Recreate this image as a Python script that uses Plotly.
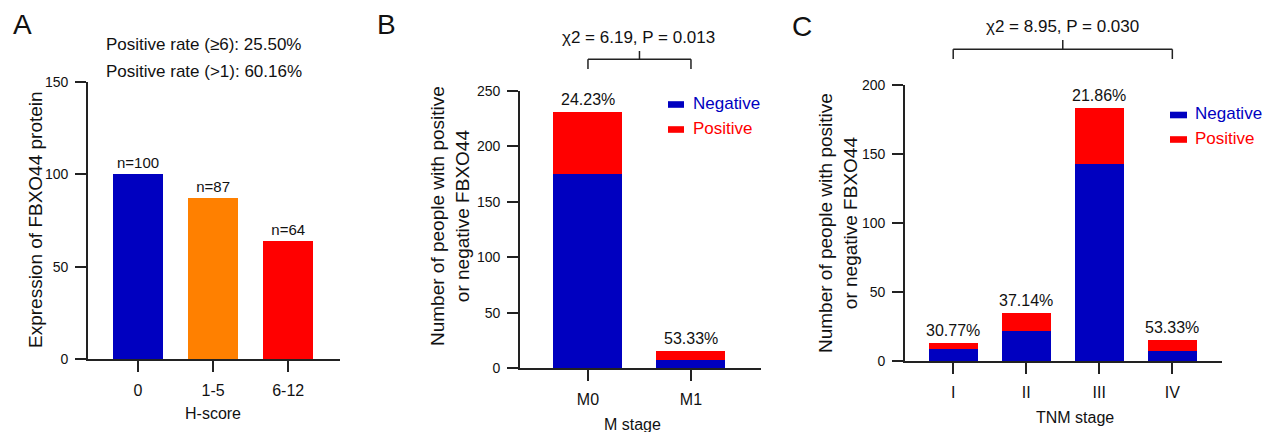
import plotly.graph_objects as go

# ---- data -------------------------------------------------------------
hscore_groups = ["0", "1-5", "6-12"]
hscore_counts = [100, 87, 64]
hscore_colors = ["#0000C0", "#FF8000", "#FF0000"]
positive_rate_lines = ["Positive rate (\u22656): 25.50%", "Positive rate (>1): 60.16%"]

m_stages = ["M0", "M1"]
m_negative = [175, 7]
m_positive = [56, 8]
m_rates = ["24.23%", "53.33%"]
m_stat = "\u03c72 = 6.19, P = 0.013"

tnm_stages = ["I", "II", "III", "IV"]
tnm_negative = [9, 22, 143, 7]
tnm_positive = [4, 13, 40, 8]
tnm_rates = ["30.77%", "37.14%", "21.86%", "53.33%"]
tnm_stat = "\u03c72 = 8.95, P = 0.030"

# ---- styling ----------------------------------------------------------
W, H = 1263, 432
FONT = "Arial, Liberation Sans, sans-serif"
BLUE, RED, AX = "#0000C0", "#FF0000", "#222222"


def px(x):
    return x / W


def py(y):
    return 1 - y / H


fig = go.Figure()

# Panel A: single bars
xa = list(range(len(hscore_groups)))
fig.add_trace(go.Bar(x=xa, y=hscore_counts, marker=dict(color=hscore_colors, line=dict(width=0)),
                     width=0.67, xaxis="x", yaxis="y", showlegend=False,
                     text=[f"n={v}" for v in hscore_counts], textposition="outside",
                     textfont=dict(size=15, color="#111", family=FONT), cliponaxis=False))

# Panel B: stacked bars
xb = list(range(len(m_stages)))
fig.add_trace(go.Bar(x=xb, y=m_negative, marker=dict(color=BLUE, line=dict(width=0)), width=0.67,
                     xaxis="x2", yaxis="y2", showlegend=False))
fig.add_trace(go.Bar(x=xb, y=m_positive, marker=dict(color=RED, line=dict(width=0)), width=0.67,
                     xaxis="x2", yaxis="y2", showlegend=False))

# Panel C: stacked bars
xc = list(range(len(tnm_stages)))
fig.add_trace(go.Bar(x=xc, y=tnm_negative, marker=dict(color=BLUE, line=dict(width=0)), width=0.67,
                     xaxis="x3", yaxis="y3", showlegend=False))
fig.add_trace(go.Bar(x=xc, y=tnm_positive, marker=dict(color=RED, line=dict(width=0)), width=0.67,
                     xaxis="x3", yaxis="y3", showlegend=False))

axis_common = dict(showline=True, linecolor=AX, linewidth=1.8, ticks="outside", ticklen=11,
                   tickwidth=1.6, tickcolor=AX, showgrid=False, zeroline=False, fixedrange=True,
                   automargin=False)
xaxis_common = dict(tickfont=dict(size=16), ticklabelstandoff=5, **axis_common)
yaxis_common = dict(tickfont=dict(size=14), ticklabelstandoff=4, **axis_common)

fig.update_layout(
    width=W, height=H, margin=dict(l=0, r=0, t=0, b=0, autoexpand=False),
    paper_bgcolor="white", plot_bgcolor="white", barmode="stack", bargap=0.33,
    font=dict(family=FONT, color="#111"),
    xaxis=dict(domain=[px(88), px(340)], range=[-0.667, 2.69], anchor="y",
               tickvals=xa, ticktext=hscore_groups, **xaxis_common),
    yaxis=dict(domain=[py(359), py(82)], range=[0, 150], anchor="x",
               tickvals=[0, 50, 100, 150], **yaxis_common),
    xaxis2=dict(domain=[px(520), px(761)], range=[-0.66, 1.68], anchor="y2",
                tickvals=xb, ticktext=m_stages, **xaxis_common),
    yaxis2=dict(domain=[py(368), py(91)], range=[0, 250], anchor="x2",
                tickvals=[0, 50, 100, 150, 200, 250], **yaxis_common),
    xaxis3=dict(domain=[px(905), px(1222)], range=[-0.66, 3.68], anchor="y3",
                tickvals=xc, ticktext=tnm_stages, **xaxis_common),
    yaxis3=dict(domain=[py(361), py(85)], range=[0, 200], anchor="x3",
                tickvals=[0, 50, 100, 150, 200], **yaxis_common),
)

ann = []


def text(x, y, s, size, xanchor="center", color="#111", angle=0):
    ann.append(dict(x=x, y=y, xref="paper", yref="paper", text=s, showarrow=False, xanchor=xanchor,
                    yanchor="middle", textangle=angle, font=dict(size=size, color=color, family=FONT)))


# panel letters
text(px(22), py(25), "A", 28)
text(px(386), py(25), "B", 28)
text(px(802), py(26), "C", 28)

# panel A header lines
text(px(104), py(44), positive_rate_lines[0], 17, xanchor="left")
text(px(104), py(72), positive_rate_lines[1], 17, xanchor="left")

# axis titles
text(px(35), py(220), "Expression of FBXO44 protein", 19, angle=-90)
text(px(450), py(216), "Number of people with positive<br>or negative FBXO44", 19, angle=-90)
text(px(838), py(223), "Number of people with positive<br>or negative FBXO44", 19, angle=-90)
text(px(213), py(413), "H-score", 16)
text(px(632), py(424), "M stage", 16)
text(px(1075), py(417), "TNM stage", 16)

# percentage labels above stacked bars
for i, r in enumerate(m_rates):
    ann.append(dict(x=xb[i], y=m_negative[i] + m_positive[i], xref="x2", yref="y2", text=r,
                    showarrow=False, yanchor="bottom", yshift=2, font=dict(size=16, color="#111", family=FONT)))
for i, r in enumerate(tnm_rates):
    ann.append(dict(x=xc[i], y=tnm_negative[i] + tnm_positive[i], xref="x3", yref="y3", text=r,
                    showarrow=False, yanchor="bottom", yshift=2, font=dict(size=16, color="#111", family=FONT)))

# chi-square annotations
text(px(638), py(37), m_stat, 17)
text(px(1062), py(26), tnm_stat, 17)

# legends
for (x0, x1, tx, yn, yp) in [(668, 684, 691, 104.5, 129.5), (1170, 1187, 1193, 115, 139.5)]:
    for yy, lab, col in [(yn, "Negative", BLUE), (yp, "Positive", RED)]:
        fig.add_shape(type="rect", xref="paper", yref="paper", x0=px(x0), x1=px(x1),
                      y0=py(yy - 3.3), y1=py(yy + 3.3), fillcolor=col, line=dict(width=0))
        text(px(tx), py(yy - 1), lab, 17, xanchor="left", color=col)

# significance brackets
line = dict(color=AX, width=1.5)
for xr, a, b, yh, yl, yt in [("x2", xb[0], xb[-1], 59.3, 69, 51), ("x3", xc[0], xc[-1], 49.3, 59, 40)]:
    fig.add_shape(type="line", xref=xr, yref="paper", x0=a, x1=b, y0=py(yh), y1=py(yh), line=line)
    fig.add_shape(type="line", xref=xr, yref="paper", x0=a, x1=a, y0=py(yh), y1=py(yl), line=line)
    fig.add_shape(type="line", xref=xr, yref="paper", x0=b, x1=b, y0=py(yh), y1=py(yl), line=line)
    m = (a + b) / 2
    fig.add_shape(type="line", xref=xr, yref="paper", x0=m, x1=m, y0=py(yh), y1=py(yt), line=line)

fig.update_layout(annotations=ann)
fig.write_html("out.html")
